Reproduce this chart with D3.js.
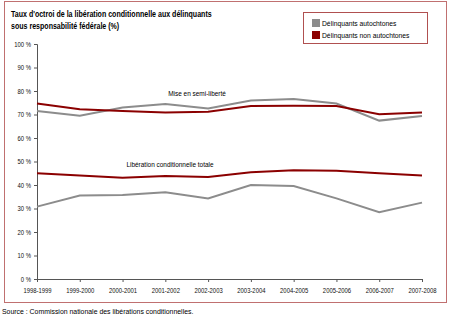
<!DOCTYPE html>
<meta charset="utf-8">
<style>
body { margin: 0; background: #fff; }
text { font-family: "Liberation Sans", Arial, sans-serif; }
</style>
<body>
<script src="https://cdnjs.cloudflare.com/ajax/libs/d3/7.8.5/d3.min.js"></script>
<script>

var years = ["1998-1999", "1999-2000", "2000-2001", "2001-2002", "2002-2003",
             "2003-2004", "2004-2005", "2005-2006", "2006-2007", "2007-2008"];

// semi-liberte
var semiAutoch    = [71.5, 69.5, 73, 74.5, 72.6, 76, 76.6, 74.7, 67.4, 69.4];
var semiNonAutoch = [74.7, 72.2, 71.5, 70.8, 71.2, 73.6, 73.7, 73.6, 70.1, 70.8];
// liberation conditionnelle totale
var totAutoch     = [30.8, 35.5, 35.7, 36.9, 34.3, 40, 39.6, 34.3, 28.4, 32.5];
var totNonAutoch  = [45, 44, 43.1, 43.8, 43.4, 45.4, 46.3, 46.1, 45, 44];

var yTicks = [0, 10, 20, 30, 40, 50, 60, 70, 80, 90, 100];

var width = 450,
    height = 326;

var grey = "#8c8c8c",
    red = "#8b0000";

var svg = d3.select("body").append("svg")
    .attr("width", width)
    .attr("height", height);

// squeeze text horizontally, the original uses a narrow font
function narrow(sel, k) {
    sel.each(function() {
        var w = this.getComputedTextLength();
        d3.select(this).attr("textLength", w * k).attr("lengthAdjust", "spacingAndGlyphs");
    });
}

// frame
svg.append("rect")
    .attr("x", 4.5).attr("y", 1.5)
    .attr("width", 442).attr("height", 301)
    .attr("fill", "#fff")
    .attr("stroke", "#c07070")
    .attr("stroke-width", 1);

svg.append("text")
    .attr("x", 11).attr("y", 17)
    .attr("font-size", 8.5).attr("font-weight", "bold")
    .text("Taux d'octroi de la libération conditionnelle aux délinquants")
    .call(narrow, 0.83);
svg.append("text")
    .attr("x", 11).attr("y", 29)
    .attr("font-size", 8.5).attr("font-weight", "bold")
    .text("sous responsabilité fédérale (%)")
    .call(narrow, 0.83);

var x = d3.scalePoint()
    .domain(years)
    .range([37, 422]);

var y = d3.scaleLinear()
    .domain([0, 100])
    .range([279, 44]);

var yAxis = svg.append("g")
    .attr("transform", "translate(37,0)")
    .call(d3.axisLeft(y).tickValues(yTicks).tickSize(3).tickFormat(function(d) { return d + " %"; }));

var xAxis = svg.append("g")
    .attr("transform", "translate(0,279)")
    .call(d3.axisBottom(x).tickSize(3).tickPadding(6));

[yAxis, xAxis].forEach(function(g) {
    g.select(".domain").attr("stroke", "#555");
    g.selectAll(".tick line").attr("stroke", "#555");
    g.selectAll("text").attr("font-size", 7.2).attr("fill", "#111")
        .style("font-family", '"Liberation Sans", Arial, sans-serif')
        .call(narrow, 0.82);
});

var line = d3.line()
    .x(function(d, i) { return x(years[i]); })
    .y(function(d) { return y(d); });

var series = [
    {values: semiAutoch, color: grey},
    {values: totAutoch, color: grey},
    {values: semiNonAutoch, color: red},
    {values: totNonAutoch, color: red}
];

series.forEach(function(s) {
    svg.append("path")
        .datum(s.values)
        .attr("d", line)
        .attr("fill", "none")
        .attr("stroke", s.color)
        .attr("stroke-width", 2);
});

svg.append("text")
    .attr("x", 197).attr("y", 96)
    .attr("text-anchor", "middle")
    .attr("font-size", 7.5)
    .text("Mise en semi-liberté")
    .call(narrow, 0.86);

svg.append("text")
    .attr("x", 170).attr("y", 167)
    .attr("text-anchor", "middle")
    .attr("font-size", 7.5)
    .text("Libération conditionnelle totale")
    .call(narrow, 0.86);

// legend
var legend = svg.append("g");
legend.append("rect")
    .attr("x", 303.5).attr("y", 12.5)
    .attr("width", 124).attr("height", 31)
    .attr("fill", "#fff")
    .attr("stroke", "#b05050");

var legendItems = [
    {label: "Délinquants autochtones", color: grey},
    {label: "Délinquants non autochtones", color: red}
];

legendItems.forEach(function(d, i) {
    legend.append("rect")
        .attr("x", 312).attr("y", 19 + i * 12)
        .attr("width", 8).attr("height", 8)
        .attr("fill", d.color);
    legend.append("text")
        .attr("x", 322).attr("y", 26 + i * 12)
        .attr("font-size", 7.5)
        .text(d.label)
        .call(narrow, 0.9);
});

svg.append("text")
    .attr("x", 2).attr("y", 314)
    .attr("font-size", 7.5)
    .text("Source : Commission nationale des libérations conditionnelles.")
    .call(narrow, 0.92);
</script>
